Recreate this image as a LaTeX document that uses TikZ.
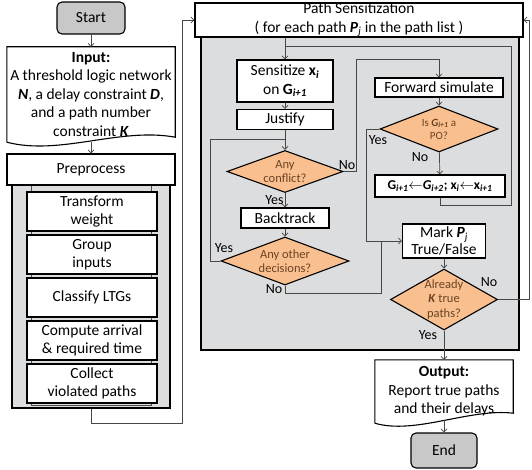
\documentclass[tikz,border=0pt]{standalone}
\usepackage{fontspec}
\setmainfont{Carlito}
\usepackage{tikz}
\usetikzlibrary{arrows.meta,positioning,calc,shapes.geometric}
\definecolor{panelGray}{HTML}{DCDDDF}
\definecolor{termGray}{HTML}{C8C8C8}
\definecolor{decOrange}{HTML}{F9BF8F}
\definecolor{decText}{HTML}{6A4424}
\definecolor{wireGray}{HTML}{474747}
\newcommand{\boldit}[1]{\textbf{\textit{#1}}}

\begin{document}
\begin{tikzpicture}[x=1pt, y=-1pt, >={Straight Barb[length=3pt,width=6pt]},
    font=\fontsize{15.5}{18.5}\selectfont,
    box/.style={draw, line width=1.1pt, fill=white, inner sep=0pt, align=center},
    term/.style={box, rounded corners=5pt, fill=termGray},
    panel/.style={draw, line width=1.4pt, fill=panelGray, inner sep=0pt},
    column/.style={draw=black!70, line width=0.6pt, fill=panelGray, inner sep=0pt},
    decision/.style={diamond, draw, line width=1.1pt, fill=decOrange, inner sep=0pt},
    dectext/.style={text=decText, font=\fontsize{12.5}{14.5}\selectfont, align=center},
    wire/.style={draw=wireGray, line width=0.7pt},
    tag/.style={font=\fontsize{14}{16}\selectfont, inner sep=0pt}]
    \useasboundingbox (0,0) rectangle (532,470);

    % grey panels
    \node[panel, minimum width=158pt, minimum height=223pt] (prepPanel) at (91,296.5) {};
    \node[column, minimum width=120pt, minimum height=220pt] (prepCol) at (91,295) {};
    \node[panel, minimum width=318pt, minimum height=313pt] (psPanel) at (360,193.5) {};

    % left column
    \node[term, minimum width=68pt, minimum height=32pt] (start) at (91,18) {Start};
    \node[inner sep=0pt, minimum width=168pt, minimum height=95pt, align=center] (input) at (91,94.5)
        {\textbf{Input:}\\A threshold logic network\\\boldit{N}, a delay constraint \boldit{D},\\and a path number\\constraint \boldit{K}};
    \draw[line width=1.1pt] (input.south west) -- (input.north west) -- (input.north east)
        -- ($(input.south east)+(0,-5)$) .. controls (120,127) and (60,156) .. (input.south west);
    \node[box, minimum width=168pt, minimum height=31pt] (prep) at (91,169.5) {Preprocess};
    \node[box, minimum width=130pt, minimum height=39pt] (transform) at (92,211.5) {Transform\\weight};
    \node[box, minimum width=130pt, minimum height=39pt] (group) at (92,254.5) {Group\\inputs};
    \node[box, minimum width=130pt, minimum height=39pt] (classify) at (92,297.5) {Classify LTGs};
    \node[box, minimum width=130pt, minimum height=39pt] (compute) at (92,340.5) {Compute arrival\\\& required time};
    \node[box, minimum width=130pt, minimum height=39pt] (collect) at (92,383.5) {Collect\\violated paths};

    % path sensitization
    \node[box, minimum width=328pt, minimum height=34pt] (pathsens) at (359,20)
        {Path Sensitization\\( for each path \boldit{P}\textsubscript{\textit{j}} in the path list )};
    \node[box, minimum width=96pt, minimum height=42pt] (sensitize) at (285,81)
        {Sensitize \textbf{x}\textsubscript{\boldit{i}}\\on \textbf{G}\textsubscript{\boldit{i+1}}};
    \node[box, minimum width=96pt, minimum height=20pt] (justify) at (285,119.5) {Justify};
    \node[decision, minimum width=116pt, minimum height=42pt,
        label={[dectext]center:{Any\\conflict?}}] (conflict) at (285,171.5) {};
    \node[box, minimum width=88pt, minimum height=20pt] (backtrack) at (285,218) {Backtrack};
    \node[decision, minimum width=128pt, minimum height=48pt,
        label={[dectext]center:{Any other\\decisions?}}] (decisions) at (285,261) {};
    \node[box, minimum width=128pt, minimum height=19pt] (forward) at (439,87.5) {Forward simulate};
    \node[decision, minimum width=118pt, minimum height=46pt,
        label={[dectext, font=\fontsize{11}{13}\selectfont]center:{Is \boldit{G}\textsubscript{\boldit{i+1}} a\\PO?}}] (po) at (439,129) {};
    \node[box, minimum width=130pt, minimum height=22pt, font=\fontsize{13.5}{16}\selectfont\bfseries] (gupdate) at (440,186)
        {G\textsubscript{\textit{i+1}}$\leftarrow$\textit{G}\textsubscript{\textit{i+2}}; x\textsubscript{\textit{i}}$\leftarrow$x\textsubscript{\textit{i+1}}};
    \node[box, minimum width=83pt, minimum height=34pt, font=\fontsize{15.5}{17}\selectfont] (mark) at (444,241)
        {Mark \boldit{P}\textsubscript{\textit{j}}\\True/False};
    \node[decision, minimum width=107pt, minimum height=61pt,
        label={[dectext]center:{Already\\\boldit{K} true\\paths?}}] (already) at (444,299.5) {};
    \node[inner sep=0pt, minimum width=138pt, minimum height=63pt, align=center] (output) at (444,391.5)
        {\textbf{Output:}\\Report true paths\\and their delays};
    \draw[line width=1.1pt] (output.south west) -- (output.north west) -- (output.north east)
        -- ($(output.south east)+(0,-10)$) .. controls (470,408) and (415,435) .. (output.south west);
    \node[term, minimum width=66pt, minimum height=35pt] (end) at (444,450.5) {End};

    % junctions
    \coordinate (loopTop) at (285,46);
    \coordinate (joinJust) at (285,139);
    \coordinate (markJoin) at (381,241);

    % connectors
    \draw[wire,->] (start) -- (input);
    \draw[wire,->] (input) -- (prep);
    \draw[wire,->] (prepPanel.south) -- ++(0,15) -| ($(pathsens.west)+(-12,0)$) -- (pathsens.west);
    \draw[wire,->] (pathsens.south -| sensitize.north) -- (sensitize);
    \draw[wire] (gupdate.south) -- ++(0,8) -| (511,46) -- (loopTop);
    \draw[wire,->] (sensitize) -- (justify);
    \draw[wire,->] (justify) -- (conflict);
    \draw[wire,->] (conflict.east) -- ++(13,0) |- ($(forward.north)+(0,-18)$) -- (forward.north);
    \node[tag] (noConf) at (347,165) {No};
    \draw[wire,->] (conflict) -- (backtrack) node[tag, midway, left=1pt] (yesConf) {Yes};
    \draw[wire,->] (backtrack) -- (decisions);
    \draw[wire] (decisions.west) -- ++(-10,0) |- (joinJust);
    \node[tag] (yesDec) at (224,248) {Yes};
    \draw[wire] (decisions.south) -- ++(0,8) -| (markJoin);
    \node[tag] (noDec) at (274,289) {No};
    \draw[wire,->] (forward) -- (po);
    \draw[wire,->] (po.west) -- ++(-13,0) |- (mark.west);
    \node[tag] (yesPo) at (378,140) {Yes};
    \draw[wire,->] (po) -- (gupdate);
    \node[tag] (noPo) at (420,157) {No};
    \draw[wire,->] (mark) -- (already);
    \draw[wire,->] (already.east) -- ++(31,0) |- (pathsens.east);
    \node[tag] (noAlr) at (489,282) {No};
    \draw[wire,->] (already) -- (output);
    \node[tag] (yesAlr) at (428,335) {Yes};
    \draw[wire,->] ($(output.south)+(0,-3)$) -- (end);
\end{tikzpicture}
\end{document}
